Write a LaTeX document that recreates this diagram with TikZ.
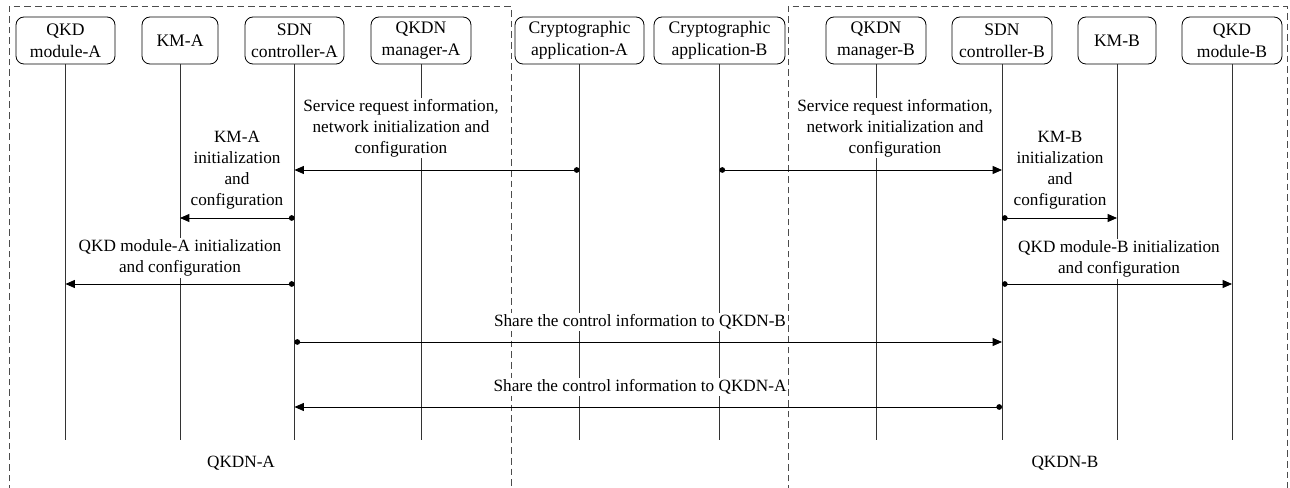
\documentclass[tikz,border=0pt]{standalone}
\usepackage{fontspec}
\setmainfont{Liberation Serif}
\usetikzlibrary{arrows.meta}
\tikzset{
  ent/.style={draw, rounded corners=6pt, minimum height=35.25pt, inner sep=0pt, align=center, line width=0.6pt, font=\fontsize{13.2}{16.2}\selectfont},
  life/.style={draw=black!80, line width=0.6pt},
  grp/.style={draw=black!70, dashed, dash pattern=on 5pt off 3pt, line width=0.6pt},
  msg/.style={line width=0.6pt, {Circle[length=4.2pt]}-{Triangle[length=7pt,width=6pt]}},
  lbl/.style={fill=white, inner sep=1pt, align=center},
}
\begin{document}
\begin{tikzpicture}[x=0.75pt,y=-0.75pt,font=\fontsize{12.9}{15.8}\selectfont]
\useasboundingbox (0,0) rectangle (1290,488);
% group frames
\draw[grp] (9,492) -- (9,6) -- (511,6) -- (511,492);
\draw[grp] (788,492) -- (788,6) -- (1287,6) -- (1287,492);
% entities
\node[ent, minimum width=74.25pt] (qkdA) at (65.5,40.5) {QKD\\module-A};
\node[ent, minimum width=57pt] (kmA) at (180,40.5) {KM-A};
\node[ent, minimum width=74.25pt] (sdnA) at (294.5,40.5) {SDN\\controller-A};
\node[ent, minimum width=75pt] (mgrA) at (421,40.5) {QKDN\\manager-A};
\node[ent, minimum width=96.75pt] (cryA) at (579.5,40.5) {Cryptographic\\application-A};
\node[ent, minimum width=98.25pt] (cryB) at (719.5,40.5) {Cryptographic\\application-B};
\node[ent, minimum width=75pt] (mgrB) at (876,40.5) {QKDN\\manager-B};
\node[ent, minimum width=75pt] (sdnB) at (1002,40.5) {SDN\\controller-B};
\node[ent, minimum width=58.5pt] (kmB) at (1117,40.5) {KM-B};
\node[ent, minimum width=75pt] (qkdB) at (1232,40.5) {QKD\\module-B};
% lifeline ends
\coordinate (bottom) at (0,440);
\foreach \n in {qkdA,kmA,sdnA,mgrA,cryA,cryB,mgrB,sdnB,kmB,qkdB}{
  \coordinate (\n-end) at (\n.south |- bottom);
  \draw[life] (\n.south) -- (\n-end);
}
% message rows
\coordinate (r1) at (0,170);
\coordinate (r2) at (0,218);
\coordinate (r3) at (0,284);
\coordinate (r4) at (0,342);
\coordinate (r5) at (0,407);
\draw[msg] (cryA.south |- r1) -- (sdnA.south |- r1);
\draw[msg] (cryB.south |- r1) -- (sdnB.south |- r1);
\draw[msg] (sdnA.south |- r2) -- (kmA.south |- r2);
\draw[msg] (sdnB.south |- r2) -- (kmB.south |- r2);
\draw[msg] (sdnA.south |- r3) -- (qkdA.south |- r3);
\draw[msg] (sdnB.south |- r3) -- (qkdB.south |- r3);
\draw[msg] (sdnA.south |- r4) -- (sdnB.south |- r4);
\draw[msg] (sdnB.south |- r5) -- (sdnA.south |- r5);
% labels
\node[lbl] (lsvcA) at (401,128) {Service request information,\\network initialization and\\configuration};
\node[lbl] (lsvcB) at (895,128) {Service request information,\\network initialization and\\configuration};
\node[lbl] (lkmA) at (237,170) {KM-A\\initialization\\and\\configuration};
\node[lbl] (lkmB) at (1060,170) {KM-B\\initialization\\and\\configuration};
\node[lbl] (lqkdA) at (180,258) {QKD module-A initialization\\and configuration};
\node[lbl] (lqkdB) at (1119,259) {QKD module-B initialization\\and configuration};
\node[lbl] (lshB) at (640,322) {Share the control information to QKDN-B};
\node[lbl] (lshA) at (640,387) {Share the control information to QKDN-A};
\node[lbl] (gA) at (241,463) {QKDN-A};
\node[lbl] (gB) at (1065,463) {QKDN-B};
\end{tikzpicture}
\end{document}
